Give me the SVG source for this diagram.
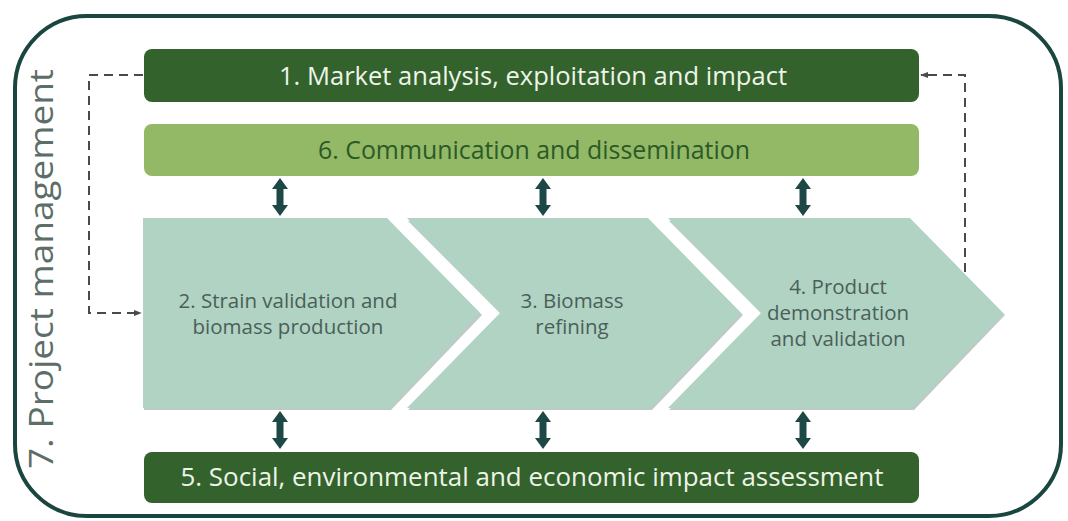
<svg xmlns="http://www.w3.org/2000/svg" width="1068" height="521" viewBox="0 0 1068 521">
<defs>
<style>
.dark{fill:#33622d}
.light{fill:#93b866}
.chev{fill:#b0d3c3}
.shadow{fill:#8fa8a0;opacity:0.6}
.t-white{font-family:"Open Sans","Liberation Sans",sans-serif;font-size:25px;fill:#eef4e8;text-anchor:middle}
.t-green{font-family:"Open Sans","Liberation Sans",sans-serif;font-size:25px;fill:#2c5a27;text-anchor:middle}
.t-chev{font-family:"Open Sans","Liberation Sans",sans-serif;font-size:20.5px;fill:#4b5f59;text-anchor:middle}
.dash{fill:none;stroke:#4a4a4a;stroke-width:2;stroke-dasharray:9 6}
.dbl{fill:#1d4846}
</style>
<marker id="ah" viewBox="0 0 10 10" refX="9" refY="5" markerWidth="8" markerHeight="8" markerUnits="userSpaceOnUse" orient="auto">
<path d="M0,1 L10,5 L0,9 Z" fill="#4a4a4a"/>
</marker>
</defs>
<rect width="1068" height="521" fill="#ffffff"/>
<g id="frame">
<rect x="15" y="16" width="1046" height="500" rx="72" ry="72" fill="none" stroke="#1b4640" stroke-width="4"/>
<text transform="translate(53,269) rotate(-90)" font-family="'Open Sans','Liberation Sans',sans-serif" font-size="33" fill="#5d6d68" text-anchor="middle" textLength="400" lengthAdjust="spacingAndGlyphs">7. Project management</text>
</g>
<g id="node1">
<rect class="dark" x="144" y="49" width="775" height="53" rx="8"/>
<text class="t-white" x="533" y="85" textLength="508" lengthAdjust="spacingAndGlyphs">1. Market analysis, exploitation and impact</text>
</g>
<g id="node6">
<rect class="light" x="144" y="124" width="775" height="52" rx="8"/>
<text class="t-green" x="534" y="159" textLength="432" lengthAdjust="spacingAndGlyphs">6. Communication and dissemination</text>
</g>
<g id="node2">
<path class="shadow" d="M144,221 L389,221 L482,315 L391,410 L144,410 Z"/>
<path class="chev" d="M143,218 L387,218 L480,313 L389,408 L143,408 Z"/>
<text class="t-chev" x="288" y="308">2. Strain validation and</text>
<text class="t-chev" x="288" y="334">biomass production</text>
</g>
<g id="node3">
<path class="shadow" d="M408,221 L650,221 L743,315 L652,410 L408,410 L502,315 Z"/>
<path class="chev" d="M407,218 L648,218 L741,313 L650,408 L407,408 L500,313 Z"/>
<text class="t-chev" x="572" y="308">3. Biomass</text>
<text class="t-chev" x="572" y="334">refining</text>
</g>
<g id="node4">
<path class="shadow" d="M669,221 L912,221 L1005,315 L914,410 L669,410 L763,315 Z"/>
<path class="chev" d="M668,218 L910,218 L1003,313 L912,408 L668,408 L761,313 Z"/>
<text class="t-chev" x="838" y="294">4. Product</text>
<text class="t-chev" x="838" y="320">demonstration</text>
<text class="t-chev" x="838" y="346">and validation</text>
</g>
<g id="node5">
<rect class="dark" x="144" y="452" width="775" height="51" rx="8"/>
<text class="t-white" x="532" y="486" textLength="703" lengthAdjust="spacingAndGlyphs">5. Social, environmental and economic impact assessment</text>
</g>
<g id="connectors">
<path class="dash" d="M143,75 L89,75 L89,313 L141,313" marker-end="url(#ah)"/>
<path class="dash" d="M965,272 L965,75 L921,75" marker-end="url(#ah)"/>
<path class="dbl" d="M280,178 L288,189 L283.5,189 L283.5,205 L288,205 L280,216 L272,205 L276.5,205 L276.5,189 L272,189 Z"/>
<path class="dbl" d="M543,178 L551,189 L546.5,189 L546.5,205 L551,205 L543,216 L535,205 L539.5,205 L539.5,189 L535,189 Z"/>
<path class="dbl" d="M803,178 L811,189 L806.5,189 L806.5,205 L811,205 L803,216 L795,205 L799.5,205 L799.5,189 L795,189 Z"/>
<path class="dbl" d="M280,411 L288,422 L283.5,422 L283.5,438 L288,438 L280,449 L272,438 L276.5,438 L276.5,422 L272,422 Z"/>
<path class="dbl" d="M543,411 L551,422 L546.5,422 L546.5,438 L551,438 L543,449 L535,438 L539.5,438 L539.5,422 L535,422 Z"/>
<path class="dbl" d="M803,411 L811,422 L806.5,422 L806.5,438 L811,438 L803,449 L795,438 L799.5,438 L799.5,422 L795,422 Z"/>
</g>
</svg>
